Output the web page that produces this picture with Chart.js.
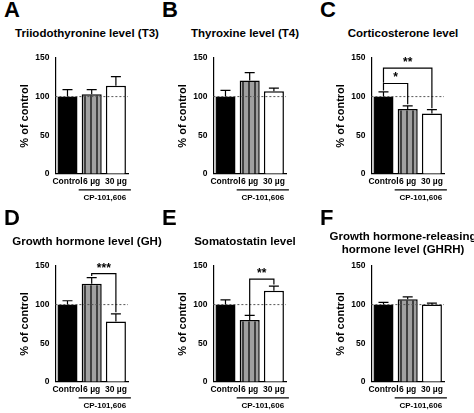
<!DOCTYPE html>
<html><head><meta charset="utf-8">
<script src="https://cdn.jsdelivr.net/npm/chart.js@4"></script>
<style>
body{margin:0;width:474px;height:413px;background:#fff;position:relative;font-family:Arial,"Liberation Sans",sans-serif;overflow:hidden}
.letter{position:absolute;font-size:22px;font-weight:bold}
.title{position:absolute;font-size:11.5px;font-weight:bold;text-align:center;width:158px;line-height:13px}
canvas{position:absolute}
</style></head><body>
<script>
var categories = ['Control', '6 µg', '30 µg'];
var groupLabel = 'CP-101,606';
var yTicks = [0, 50, 100, 150];
var letters = ['A','B','C','D','E','F'];
var titles = ['Triiodothyronine level (T3)','Thyroxine level (T4)','Corticosterone level','Growth hormone level (GH)','Somatostatin level','Growth hormone-releasing<br>hormone level (GHRH)'];
var meansA = [100, 103, 114], errA = [9, 6, 12];
var meansB = [100, 121, 107], errB = [8, 10, 4];
var meansC = [100, 84, 78],   errC = [6, 4, 5];
var meansD = [100, 127, 78],  errD = [5, 8, 10];
var meansE = [100, 80, 118],  errE = [6, 6, 6];
var meansF = [100, 107, 100], errF = [3, 3, 2];
// brackets: [from, to, level, leftLeg, rightLeg, text]
var sigC = [[0, 1, 117, 108, 90, '*'], [0, 2, 137, 118, 85, '**']];
var sigD = [[1, 2, 140, 137, 90, '***']];
var sigE = [[1, 2, 133, 86, 126, '**']];

function stripes(){
  var c = document.createElement('canvas'); c.width = 6; c.height = 6;
  var g = c.getContext('2d');
  g.fillStyle = '#a0a0a0'; g.fillRect(0,0,6,6);
  g.fillStyle = '#404040'; g.fillRect(0,0,2,6);
  return document.createElement('canvas').getContext('2d').createPattern(c,'repeat');
}

var extras = {
  id: 'extras',
  afterDatasetsDraw: function(chart){
    var ctx = chart.ctx, x = chart.scales.x, y = chart.scales.y, o = chart.options.plugins.extras;
    var meta = chart.getDatasetMeta(0);
    ctx.save();
    ctx.strokeStyle = '#555'; ctx.lineWidth = 1; ctx.setLineDash([2,2]);
    ctx.beginPath(); ctx.moveTo(x.left, y.getPixelForValue(100)); ctx.lineTo(x.right, y.getPixelForValue(100)); ctx.stroke();
    ctx.setLineDash([]);
    ctx.strokeStyle = '#000'; ctx.lineWidth = 1.2;
    o.means.forEach(function(m, i){
      var px = meta.data[i].x, top = y.getPixelForValue(m), e = y.getPixelForValue(m + o.errs[i]);
      ctx.beginPath(); ctx.moveTo(px, top); ctx.lineTo(px, e);
      ctx.moveTo(px - 5, e); ctx.lineTo(px + 5, e); ctx.stroke();
    });
    ctx.fillStyle = '#000'; ctx.font = 'bold 12px Arial'; ctx.textAlign = 'center';
    o.sig.forEach(function(s){
      var x1 = meta.data[s[0]].x, x2 = meta.data[s[1]].x, ly = y.getPixelForValue(s[2]);
      ctx.beginPath();
      ctx.moveTo(x1, y.getPixelForValue(s[3])); ctx.lineTo(x1, ly); ctx.lineTo(x2, ly); ctx.lineTo(x2, y.getPixelForValue(s[4]));
      ctx.stroke();
      ctx.fillText(s[5], (x1 + x2) / 2, ly - 2);
    });
    var gx1 = meta.data[1].x - 13, gx2 = meta.data[2].x + 15, gy = y.bottom + 16;
    ctx.beginPath(); ctx.moveTo(gx1, gy); ctx.lineTo(gx2, gy); ctx.stroke();
    ctx.font = 'bold 8px Arial';
    ctx.fillText(groupLabel, (gx1 + gx2) / 2, gy + 10);
    ctx.restore();
  }
};

function makePanel(i, left, top, means, errs, sig){
  var L = document.createElement('div'); L.className = 'letter'; L.textContent = letters[i];
  L.style.left = (left + 4) + 'px'; L.style.top = (top - 3) + 'px'; document.body.appendChild(L);
  var T = document.createElement('div'); T.className = 'title'; T.innerHTML = titles[i];
  T.style.left = (left + 8) + 'px'; T.style.top = (top + (i == 5 ? 22 : 27)) + 'px'; document.body.appendChild(T);
  var cv = document.createElement('canvas');
  cv.style.left = left + 'px'; cv.style.top = (top + 48) + 'px';
  document.body.appendChild(cv);
  new Chart(cv, {
    type: 'bar',
    data: { labels: categories, datasets: [{ data: means,
      backgroundColor: ['#000', stripes(), '#fff'], borderColor: '#000', borderWidth: 1.5,
      barPercentage: 0.9, categoryPercentage: 0.92 }] },
    options: {
      responsive: false, animation: false, devicePixelRatio: 1,
      layout: { padding: { left: 16, right: 30, top: 10, bottom: 16 } },
      plugins: { legend: { display: false }, tooltip: { enabled: false },
        extras: { means: means, errs: errs, sig: sig } },
      scales: {
        x: { grid: { display: false, drawTicks: false }, border: { color: '#000', width: 1.2 },
          ticks: { color: '#000', font: { size: 8.5, weight: 'bold' }, padding: 3, maxRotation: 0, autoSkip: false } },
        y: { min: 0, max: 150, afterBuildTicks: function(s){ s.ticks = yTicks.map(function(v){ return {value: v}; }); },
          grid: { display: false, drawTicks: true, tickLength: 4, tickColor: '#000' }, border: { color: '#000', width: 1.2 },
          ticks: { color: '#000', font: { size: 8.5, weight: 'bold' }, padding: 2 },
          title: { display: true, text: '% of control', color: '#000', font: { size: 11, weight: 'bold' }, padding: 2 } }
      }
    },
    plugins: [extras]
  });
}
var cvW = 158, cvH = 158;
// canvas size set before chart creation
HTMLCanvasElement.prototype._sz = true;
var origMake = makePanel;
makePanel = function(i, left, top, means, errs, sig){
  var before = document.querySelectorAll('canvas').length;
  var create = document.createElement.bind(document);
  document.createElement = function(t){ var e = create(t); if (t === 'canvas' && !e._done) { e.width = cvW; e.height = cvH; e._done = true; } return e; };
  origMake(i, left, top, means, errs, sig);
  document.createElement = create;
};
makePanel(0, 0, 0, meansA, errA, []);
makePanel(1, 158, 0, meansB, errB, []);
makePanel(2, 316, 0, meansC, errC, sigC);
makePanel(3, 0, 208, meansD, errD, sigD);
makePanel(4, 158, 208, meansE, errE, sigE);
makePanel(5, 316, 208, meansF, errF, []);
</script>
</body></html>
